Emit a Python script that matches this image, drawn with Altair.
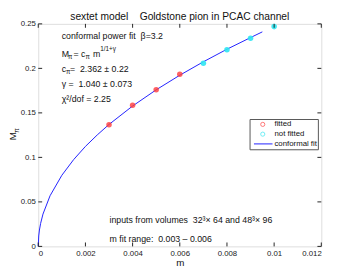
import altair as alt
import pandas as pd

# ---- data ----
fit_m = [0.003, 0.004, 0.005, 0.006]
fit_M = [0.1367, 0.1586, 0.1759, 0.1933]
nofit_m = [0.007, 0.008, 0.009, 0.010]
nofit_M = [0.2057, 0.2210, 0.2338, 0.2469]
curve_m = [0, 0.00002, 0.00005, 0.0001, 0.0002, 0.0005, 0.001, 0.0015, 0.002,
           0.0025, 0.003, 0.004, 0.005, 0.006, 0.007, 0.008, 0.009, 0.0095]
curve_M = [0, 0.0117, 0.0184, 0.0258, 0.0363, 0.0569, 0.0799, 0.0975, 0.1123,
           0.1252, 0.1370, 0.1577, 0.1759, 0.1923, 0.2074, 0.2215, 0.2346, 0.2410]
x_ticks = [0, 0.002, 0.004, 0.006, 0.008, 0.010, 0.012]
y_ticks = [0, 0.05, 0.1, 0.15, 0.2, 0.25]
legend_labels = ["fitted", "not fitted", "conformal fit"]
title_text = "sextet model    Goldstone pion in PCAC channel"
x_title = "m"

W, H = 290, 228
FONT = "Liberation Sans"
RED = "#ff3b3b"
CYAN = "#2fe6f2"
BLUE = "#1f1fff"
NB = "\u00a0"

xs = alt.Scale(domain=[0, 0.012], nice=False, zero=False)
ys = alt.Scale(domain=[0, 0.25], nice=False, zero=False)

fit_df = pd.DataFrame({"m": fit_m, "M": fit_M})
nofit_df = pd.DataFrame({"m": nofit_m, "M": nofit_M})
curve_df = pd.DataFrame({"m": curve_m, "M": curve_M})
xt_df = pd.DataFrame({"m": x_ticks})
yt_df = pd.DataFrame({"M": y_ticks})

x_axis = alt.Axis(values=x_ticks, format="~g", ticks=False, domain=False, grid=False,
                  labelFontSize=8, labelPadding=3, labelFont=FONT, labelColor="#222",
                  title=x_title, titleFontSize=10, titleFontWeight="normal",
                  titleFont=FONT, titlePadding=1, titleColor="#111")
y_axis = alt.Axis(values=y_ticks, format="~g", ticks=False, domain=False, grid=False,
                  labelFontSize=8, labelPadding=3, labelFont=FONT, labelColor="#222",
                  title=None)

X = alt.X("m:Q", scale=xs, axis=x_axis)
Y = alt.Y("M:Q", scale=ys, axis=y_axis)

curve = alt.Chart(curve_df).mark_line(color=BLUE, strokeWidth=1).encode(x=X, y=Y)
pts_fit = alt.Chart(fit_df).mark_circle(size=32, color=RED, opacity=0.8).encode(x=X, y=Y)
pts_nofit = alt.Chart(nofit_df).mark_circle(size=32, color=CYAN, opacity=0.9).encode(x=X, y=Y)

TL = 4
tick_style = dict(color="#222", strokeWidth=1)
tb = alt.Chart(xt_df).mark_rule(**tick_style).encode(
    x=X, y=alt.value(H), y2=alt.value(H - TL))
tt = alt.Chart(xt_df).mark_rule(**tick_style).encode(
    x=X, y=alt.value(0), y2=alt.value(TL))
tl = alt.Chart(yt_df).mark_rule(**tick_style).encode(
    y=Y, x=alt.value(0), x2=alt.value(TL))
tr = alt.Chart(yt_df).mark_rule(**tick_style).encode(
    y=Y, x=alt.value(W), x2=alt.value(W - TL))

one = pd.DataFrame({"k": [0]})


def txt(s, x, y, size=9, angle=0, align="left"):
    return alt.Chart(one).mark_text(
        text=s.replace(" ", NB), font=FONT, fontSize=size, align=align, baseline="middle",
        color="#111", angle=angle
    ).encode(x=alt.value(x), y=alt.value(y))


texts = [
    txt(title_text, W / 2, -7, 10.5, 0, "center"),
    txt("conformal power fit  \u03b2=3.2", 24, 13),
    txt("M", 24, 31), txt("\u03c0", 30.5, 34, 6.5),
    txt("= c", 36, 31), txt("\u03c0", 48.5, 34, 6.5),
    txt("m", 56, 31), txt("1/1+\u03b3", 63.5, 26, 6.5),
    txt("c", 24, 46), txt("\u03c0", 28.5, 49, 6.5),
    txt("=  2.362 \u00b1 0.22", 32.5, 46),
    txt("\u03b3 =  1.040 \u00b1 0.073", 24, 62),
    txt("\u03c7\u00b2/dof = 2.25", 24, 77.5),
    txt("inputs from volumes  32\u00b3\u00d7 64 and 48\u00b3\u00d7 96", 73, 201),
    txt("m fit range:  0.003 \u2013 0.006", 73, 220),
    txt("M", -25.5, 115, 10, 270, "center"),
    txt("\u03c0", -21.5, 109.5, 7, 270, "center"),
]

# legend
leg_box = alt.Chart(one).mark_rect(fill="white", stroke="#555", strokeWidth=1).encode(
    x=alt.value(217), x2=alt.value(287), y=alt.value(98), y2=alt.value(129))
leg_p1 = alt.Chart(one).mark_point(shape="circle", size=18, color=RED, filled=False,
                                   strokeWidth=1).encode(x=alt.value(230), y=alt.value(103))
leg_p2 = alt.Chart(one).mark_point(shape="circle", size=18, color=CYAN, filled=False,
                                   strokeWidth=1).encode(x=alt.value(230), y=alt.value(113))
leg_l = alt.Chart(one).mark_rule(color=BLUE, strokeWidth=1).encode(
    x=alt.value(221), x2=alt.value(240), y=alt.value(123))
leg_t = [txt(legend_labels[i], 242, 103 + 10 * i, 8) for i in range(3)]

chart = alt.layer(
    curve, pts_fit, pts_nofit, tb, tt, tl, tr, *texts,
    leg_box, leg_p1, leg_p2, leg_l, *leg_t
).properties(
    width=W, height=H,
    autosize=alt.AutoSizeParams(type="none"),
    padding={"left": 31, "top": 13, "right": 13, "bottom": 24},
).configure_view(stroke="#222", strokeWidth=1).configure(background="white")

chart.save("out.html", embed_options={"renderer": "svg", "actions": False})
